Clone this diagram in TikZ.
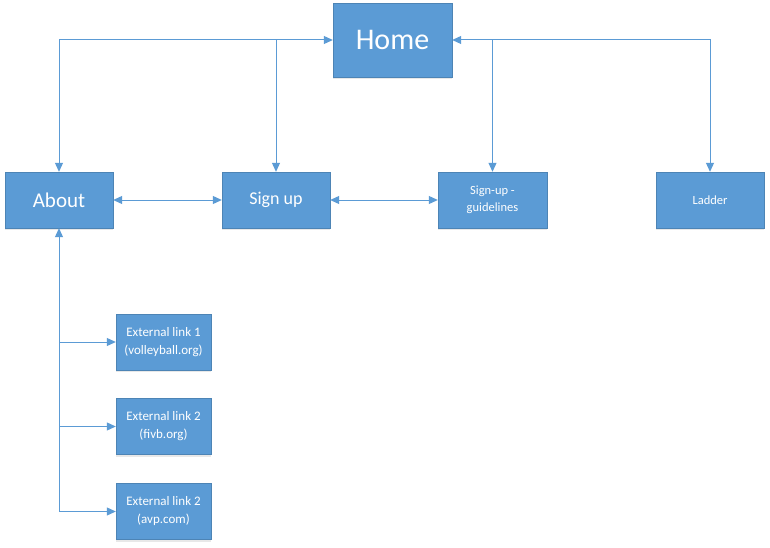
\documentclass[tikz,border=0pt]{standalone}
\usepackage{fontspec}
\setmainfont{Carlito}
\usetikzlibrary{arrows.meta,shadows}
\definecolor{boxblue}{HTML}{5B9BD5}
\definecolor{linkblue}{HTML}{5B9BD5}
\tikzset{
  page/.style={draw=boxblue!85!black, line width=0.4pt, fill=boxblue, text=white,
    align=center, inner sep=0pt,
    drop shadow={opacity=0.18, shadow xshift=0pt, shadow yshift=-2pt}},
  tip/.style={Triangle[length=9pt,width=8pt]},
  link/.style={draw=linkblue, line width=1pt, arrows={Triangle[length=9pt,width=8pt]-Triangle[length=9pt,width=8pt]}},
  onearrow/.style={draw=linkblue, line width=1pt, -{Triangle[length=9pt,width=8pt]}},
}
\begin{document}
\begin{tikzpicture}[x=1pt,y=-1pt]
  \useasboundingbox (0,0) rectangle (770,548);
  \fill[white] (0,0) rectangle (770,548);

  % pages
  \node[page, minimum width=119pt, minimum height=74pt, font=\fontsize{30}{34}\selectfont]
    (home) at (392.5,40) {Home};
  \node[page, minimum width=108pt, minimum height=56pt, font=\fontsize{21}{24}\selectfont]
    (about) at (59,200) {About};
  \node[page, minimum width=108pt, minimum height=56pt, font=\fontsize{18}{21}\selectfont]
    (signup) at (276,200) {\raisebox{-1.5pt}{Sign up}};
  \node[page, minimum width=109pt, minimum height=56pt, font=\fontsize{12.5}{17}\selectfont]
    (guide) at (492.5,200) {Sign-up -\\guidelines};
  \node[page, minimum width=108pt, minimum height=56pt, font=\fontsize{12.5}{17}\selectfont]
    (ladder) at (710,200) {Ladder};

  % external links
  \node[page, minimum width=95pt, minimum height=56pt, font=\fontsize{13}{18}\selectfont]
    (ext1) at (163.5,342) {External link 1\\(volleyball.org)};
  \node[page, minimum width=95pt, minimum height=56pt, font=\fontsize{13}{18}\selectfont]
    (ext2) at (163.5,426.5) {External link 2\\(fivb.org)};
  \node[page, minimum width=95pt, minimum height=56pt, font=\fontsize{13}{18}\selectfont]
    (ext3) at (163.5,511.5) {External link 2\\(avp.com)};

  % navigation from Home
  \draw[link] (about.north) |- (home.west);
  \draw[onearrow] (signup.north |- home.west) -- (signup.north);
  \draw[link] (home.east) -| (ladder.north);
  \draw[onearrow] (guide.north |- home.east) -- (guide.north);

  % links between pages
  \draw[link] (about.east) -- (signup.west);
  \draw[link] (signup.east) -- (guide.west);

  % external links from About
  \draw[link] (about.south) |- (ext3.west);
  \draw[onearrow] (about.south |- ext1.west) -- (ext1.west);
  \draw[onearrow] (about.south |- ext2.west) -- (ext2.west);
\end{tikzpicture}
\end{document}
